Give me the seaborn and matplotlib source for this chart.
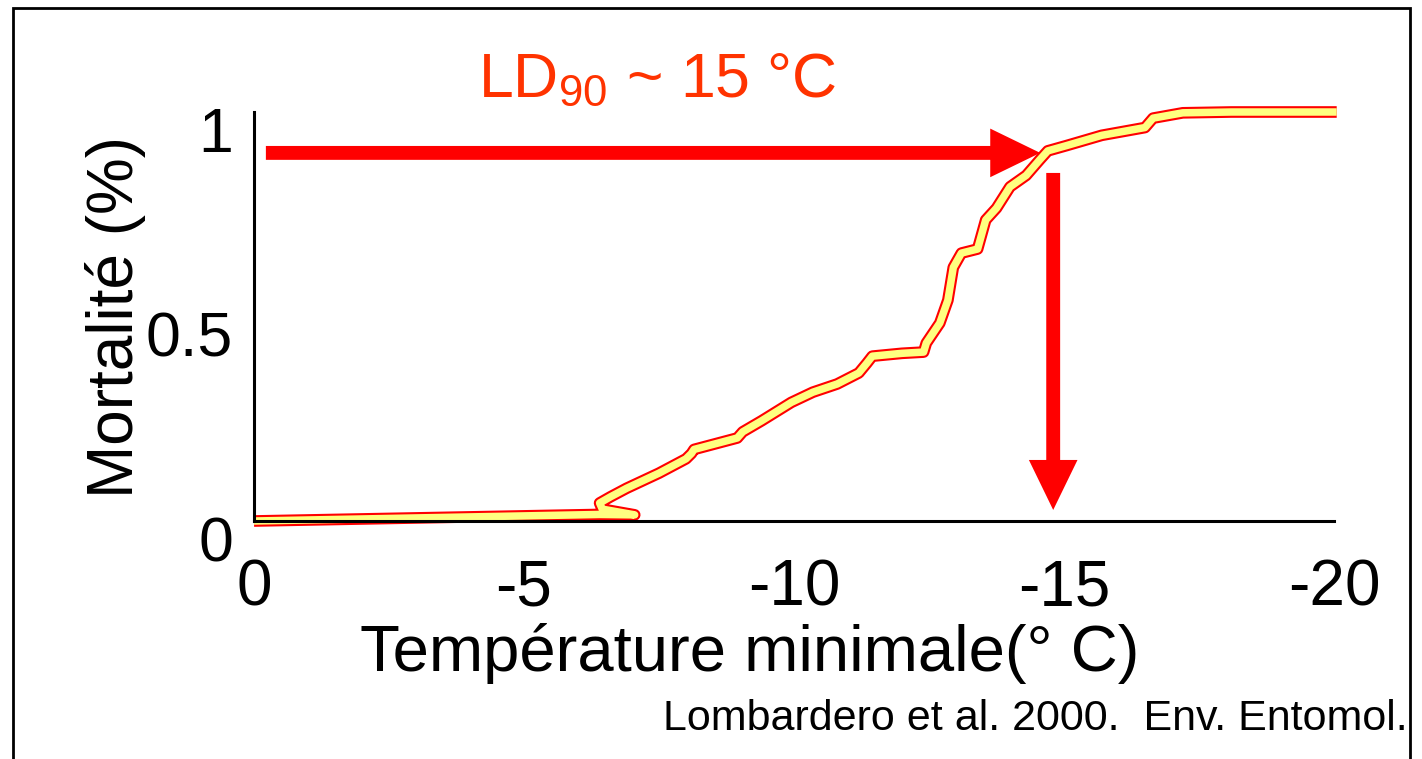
import matplotlib
matplotlib.use("Agg")
import matplotlib.pyplot as plt
import matplotlib.patheffects as pe
import matplotlib.transforms as mtransforms
from matplotlib.patches import Rectangle
import pandas as pd
import seaborn as sns

# curve (minimum temperature vs mortality)
temp = [0, -6.4, -7.05, -6.45, -6.4, -6.6, -6.9, -7.5, -8.0, -8.1, -8.15,
        -8.95, -9.05, -9.4, -9.95, -10.35, -10.8, -11.2, -11.35, -11.45,
        -12.0, -12.4, -12.45, -12.7, -12.85, -12.95, -13.1, -13.4, -13.55,
        -13.75, -14.0, -14.3, -14.55, -14.7, -15.05, -15.7, -16.5, -16.65,
        -17.2, -18.1, -20.05]
mort = [0.0, 0.016, 0.015, 0.029, 0.044, 0.059, 0.08, 0.117, 0.152, 0.165,
        0.175, 0.203, 0.218, 0.245, 0.29, 0.315, 0.335, 0.362, 0.386, 0.403,
        0.41, 0.413, 0.435, 0.484, 0.54, 0.62, 0.655, 0.665, 0.736, 0.765,
        0.817, 0.845, 0.883, 0.905, 0.918, 0.943, 0.962, 0.985, 0.998, 1.0,
        1.0]

x_ticks = [0, -5, -10, -15, -20]
x_ticklabels = ['0', '-5', '-10', '-15', '-20']
y_ticks = [0, 0.5, 1]
y_ticklabels = ['0', '0.5', '1']

ld90_level = 0.9
ld90_temp = -14.8

df = pd.DataFrame({'temp': temp, 'mort': mort})

sns.set_style('white')
plt.rcParams['font.family'] = ['Liberation Sans', 'DejaVu Sans']
plt.rcParams['text.color'] = 'black'
plt.rcParams['axes.labelcolor'] = 'black'
plt.rcParams['mathtext.fontset'] = 'custom'
plt.rcParams['mathtext.rm'] = 'Liberation Sans'
plt.rcParams['mathtext.it'] = 'Liberation Sans'

fig = plt.figure(figsize=(14.22, 7.59), dpi=100)
ax = fig.add_axes([254 / 1422, 1 - 521 / 759, 1080 / 1422, 409 / 759])

yellow = '#ffff80'
tick_yellow = '#ffff66'
red = '#ff0000'

# arrows first so the curve sits on top
ax.annotate('', xy=(-14.56, ld90_level), xytext=(-0.22, ld90_level),
            arrowprops=dict(facecolor=red, edgecolor='none', width=10,
                            headwidth=35, headlength=36, shrink=0))
ax.annotate('', xy=(ld90_temp, 0.027), xytext=(ld90_temp, 0.851),
            arrowprops=dict(facecolor=red, edgecolor='none', width=10,
                            headwidth=35, headlength=36, shrink=0))

sns.lineplot(data=df, x='temp', y='mort', sort=False, estimator=None,
             color=yellow, linewidth=5.4, ax=ax, clip_on=False,
             solid_joinstyle='round', solid_capstyle='butt',
             path_effects=[pe.Stroke(linewidth=8.4, foreground=red,
                                     joinstyle='round', capstyle='butt'),
                           pe.Normal()])

ax.set_xlim(0, -20)
ax.set_ylim(0, 1)

ax.set_xticks(x_ticks)
ax.set_xticklabels(x_ticklabels)
ax.set_yticks(y_ticks)
ax.set_yticklabels(y_ticklabels)
ax.set_xticks(range(0, -21, -1), minor=True)
ax.set_yticks([i / 10 for i in range(11)], minor=True)

ax.tick_params(axis='both', which='both', direction='out', color=tick_yellow,
               width=1.2, labelcolor='black')
ax.tick_params(axis='both', which='major', length=12)
ax.tick_params(axis='both', which='minor', length=6)
ax.tick_params(axis='x', which='major', pad=15, labelsize=46)
ax.tick_params(axis='y', which='major', pad=3, labelsize=45)

# y labels sit a bit lower than their ticks
offset = mtransforms.ScaledTranslation(0, -0.17, fig.dpi_scale_trans)
for lab in ax.get_yticklabels():
    lab.set_transform(lab.get_transform() + offset)

for side in ['top', 'right']:
    ax.spines[side].set_visible(False)
for side in ['left', 'bottom']:
    ax.spines[side].set_color('black')
    ax.spines[side].set_linewidth(2.2)

ax.set_xlabel('Température minimale(° C)', fontsize=47, labelpad=0)
ax.xaxis.set_label_coords(0.459, -0.25)
ax.set_ylabel('Mortalité (%)', fontsize=46)
ax.yaxis.set_label_coords(-0.1, 0.5)

fig.text(478 / 1422, 1 - 97 / 759, r'LD$_{\mathrm{90}}$ ~ 15 °C',
         color='#ff3300', fontsize=45, ha='left', va='baseline')
fig.text(1408 / 1422, 1 - 730 / 759, 'Lombardero et al. 2000.  Env. Entomol.',
         fontsize=31, ha='right', va='baseline')

# slide frame
fig.patches.append(Rectangle((13 / 1422, -0.1), 1397 / 1422, 1.1 - 8 / 759,
                             transform=fig.transFigure, fill=False,
                             edgecolor='black', linewidth=2))

fig.savefig('out.png', dpi=100)
